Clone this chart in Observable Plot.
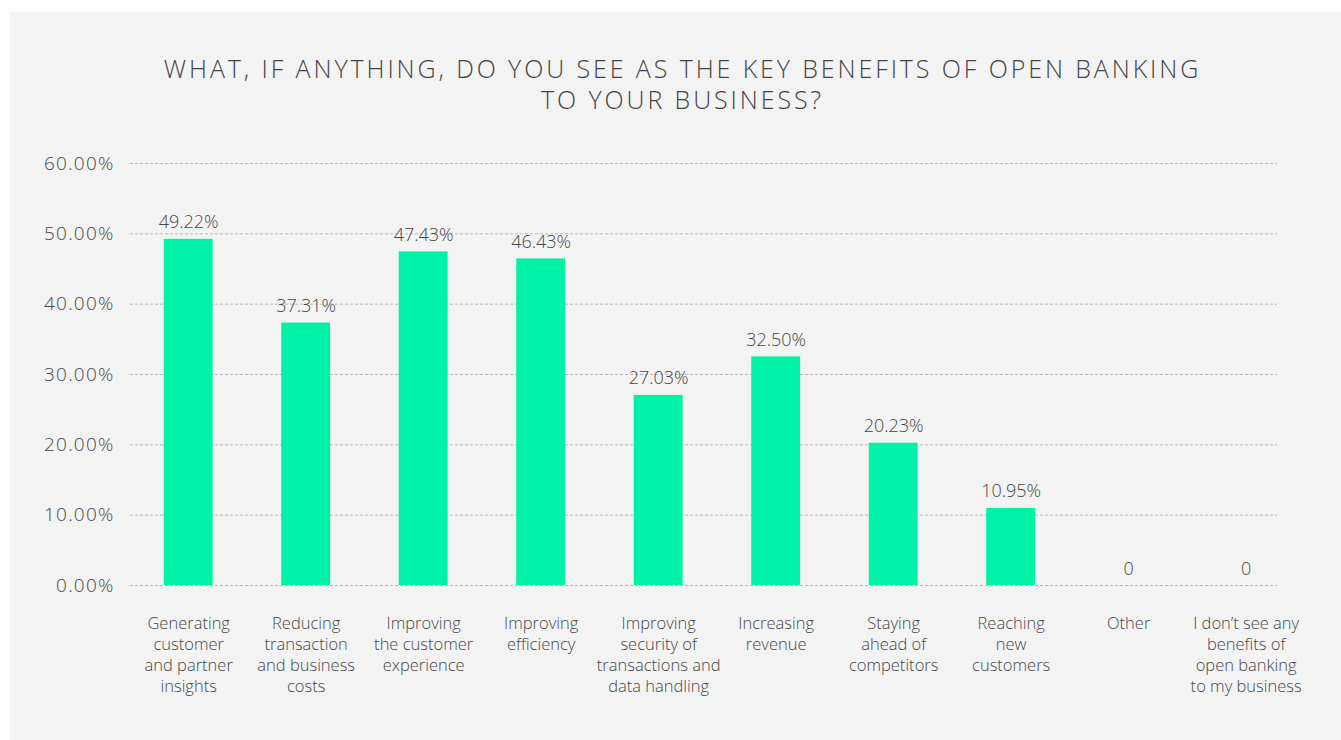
<!DOCTYPE html>
<html>
<head>
<meta charset="utf-8">
<script src="https://cdn.jsdelivr.net/npm/d3@7"></script>
<script src="https://cdn.jsdelivr.net/npm/@observablehq/plot@0.6"></script>
<style>
  html, body { margin: 0; padding: 0; background: #ffffff; }
  #panel {
    position: absolute; left: 10px; top: 12px; width: 1331px; height: 728px;
    background: #f3f3f3; overflow: hidden;
    font-family: "Open Sans", sans-serif; color: #444444;
  }
  #title {
    position: absolute; left: 0; width: 1331px; top: 41px; text-align: center;
    font-size: 25px; font-weight: 300; line-height: 31px; letter-spacing: 2.9px;
    padding-left: 14px; box-sizing: border-box;
  }
  #chart { position: absolute; left: 0; top: 106px; }
  #chart text.num { letter-spacing: 0.4px; }
  #chart g.ytick text { letter-spacing: 1.2px; }
</style>
</head>
<body>
<div id="panel">
  <div id="title">WHAT, IF ANYTHING, DO YOU SEE AS THE KEY BENEFITS OF OPEN BANKING<br>TO YOUR BUSINESS?</div>
  <div id="chart"></div>
</div>
<script>
const categories = [
  "Generating\ncustomer\nand partner\ninsights",
  "Reducing\ntransaction\nand business\ncosts",
  "Improving\nthe customer\nexperience",
  "Improving\nefficiency",
  "Improving\nsecurity of\ntransactions and\ndata handling",
  "Increasing\nrevenue",
  "Staying\nahead of\ncompetitors",
  "Reaching\nnew\ncustomers",
  "Other",
  "I don\u2019t see any\nbenefits of\nopen banking\nto my business"
];
const values = [49.22, 37.31, 47.43, 46.43, 27.03, 32.50, 20.23, 10.95, 0, 0];
const valueLabels = ["49.22%", "37.31%", "47.43%", "46.43%", "27.03%", "32.50%", "20.23%", "10.95%", "0", "0"];
const yTicks = [0, 10, 20, 30, 40, 50, 60];

const data = categories.map((c, i) => ({category: c, value: values[i], label: valueLabels[i]}));

const chart = Plot.plot({
  width: 1331,
  height: 610,
  marginTop: 45,
  marginBottom: 143,
  marginLeft: 120,
  marginRight: 64,
  style: {background: "transparent", fontFamily: "Open Sans, sans-serif", color: "#474747"},
  x: {domain: categories, paddingInner: 0.584, paddingOuter: 0.173, align: 0.83, round: false, label: null},
  y: {domain: [0, 60], label: null},
  marks: [
    Plot.ruleY(yTicks, {stroke: "#b9b9bd", strokeWidth: 1, strokeDasharray: "3,2"}),
    Plot.barY(data, {x: "category", y: "value", fill: "#00f2a6"}),
    Plot.text(data, {x: "category", y: "value", text: "label", lineAnchor: "bottom", dy: -11,
      fontSize: 18, fill: "#474747", fontWeight: 300, className: "num"}),
    Plot.axisY(yTicks, {tickSize: 0, tickPadding: 16, tickFormat: d => d.toFixed(2) + "%",
      fontSize: 19, fill: "#474747", fontWeight: 300, label: null, className: "ytick"}),
    Plot.axisX({tickSize: 0, tickPadding: 28, fontSize: 16.5, lineHeight: 1.29,
      fill: "#474747", fontWeight: 300, label: null})
  ]
});
document.getElementById("chart").appendChild(chart);
</script>
</body>
</html>
